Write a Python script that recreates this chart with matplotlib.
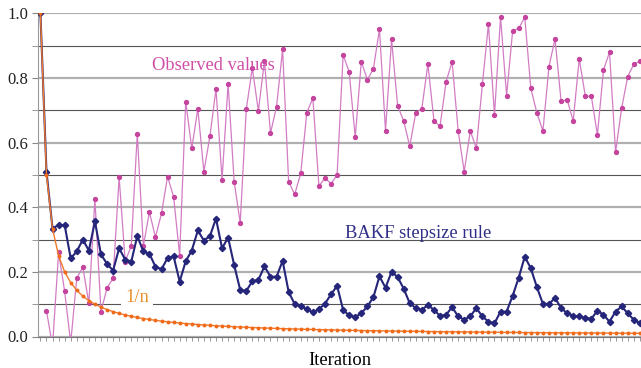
import numpy as np
import matplotlib
matplotlib.use("Agg")
import matplotlib.pyplot as plt
from matplotlib.ticker import MultipleLocator, FormatStrFormatter

plt.rcParams['font.family'] = ['Liberation Serif', 'DejaVu Serif']

# values, iteration 1..100
iterations = np.arange(1, 101)

observed = [np.nan, 0.08, -0.03, 0.26, 0.14, -0.02, 0.18, 0.215, 0.103, 0.425,
            0.077, 0.15, 0.18, 0.493, 0.232, 0.28, 0.627, 0.28, 0.385, 0.307,
            0.381, 0.495, 0.432, 0.25, 0.727, 0.582, 0.705, 0.51, 0.62, 0.766,
            0.485, 0.782, 0.479, 0.352, 0.703, 0.831, 0.698, 0.852, 0.629, 0.711,
            0.888, 0.479, 0.44, 0.505, 0.693, 0.737, 0.466, 0.49, 0.473, 0.499,
            0.871, 0.819, 0.616, 0.85, 0.795, 0.828, 0.951, 0.637, 0.919, 0.714,
            0.667, 0.589, 0.692, 0.705, 0.843, 0.668, 0.65, 0.788, 0.85, 0.636,
            0.51, 0.636, 0.583, 0.78, 0.966, 0.686, 0.988, 0.745, 0.946, 0.953,
            0.988, 0.768, 0.692, 0.636, 0.835, 0.921, 0.728, 0.733, 0.667, 0.859,
            0.744, 0.743, 0.624, 0.824, 0.88, 0.571, 0.706, 0.804, 0.842, 0.852]

bakf = [1.0, 0.51, 0.334, 0.345, 0.345, 0.242, 0.263, 0.30, 0.266, 0.356,
        0.254, 0.225, 0.204, 0.273, 0.238, 0.231, 0.311, 0.263, 0.256, 0.216,
        0.208, 0.243, 0.248, 0.17, 0.233, 0.266, 0.328, 0.297, 0.311, 0.365,
        0.273, 0.306, 0.221, 0.144, 0.141, 0.171, 0.175, 0.217, 0.185, 0.185,
        0.234, 0.138, 0.1, 0.093, 0.085, 0.075, 0.084, 0.102, 0.13, 0.157,
        0.082, 0.065, 0.06, 0.072, 0.093, 0.122, 0.186, 0.151, 0.2, 0.184,
        0.148, 0.103, 0.088, 0.082, 0.098, 0.082, 0.064, 0.067, 0.091, 0.062,
        0.052, 0.062, 0.088, 0.062, 0.046, 0.041, 0.077, 0.077, 0.126, 0.182,
        0.247, 0.211, 0.153, 0.101, 0.101, 0.119, 0.088, 0.072, 0.064, 0.062,
        0.057, 0.055, 0.08, 0.067, 0.046, 0.077, 0.093, 0.072, 0.052, 0.041]

one_over_n = 1.0 / iterations

fig = plt.figure(figsize=(6.41, 3.68), dpi=100)
ax = fig.add_axes([38 / 641, 31.5 / 368, 603 / 641, 323.2 / 368])

ax.set_xlim(0.6, 100.2)
ax.set_ylim(0, 1.0)

# grid: gray at the labelled ticks, darker thin lines between
ax.yaxis.set_major_locator(MultipleLocator(0.2))
ax.yaxis.set_minor_locator(MultipleLocator(0.1))
ax.yaxis.set_major_formatter(FormatStrFormatter('%.1f'))
ax.grid(which='major', axis='y', color='#b0b0b0', lw=1.6, zorder=0)
ax.grid(which='minor', axis='y', color='#555555', lw=0.8, zorder=0)
ax.set_axisbelow(True)

ax.plot(iterations, observed, color='#d27cc4', lw=0.9, marker='o', ms=2.8,
        mfc='#c4449e', mec='#c4449e', zorder=3)
ax.plot(iterations, bakf, color='#25257a', lw=1.5, marker='D', ms=3.2,
        mfc='#25257a', mec='#25257a', zorder=4)
ax.plot(iterations, one_over_n, color='#f07a2a', lw=1.0, marker='o', ms=1.8,
        mfc='#f06a1a', mec='#f06a1a', zorder=5)

ax.text(29.5, 0.837, 'Observed values', color='#d050a8', fontsize=13.3,
        ha='center', va='center', zorder=6)
ax.text(63.4, 0.32, 'BAKF stepsize rule', color='#303088', fontsize=13.3,
        ha='center', va='center', zorder=6)
ax.text(17, 0.12, '1/n', color='#e8902a', fontsize=13.3, ha='center', va='center',
        zorder=6, bbox=dict(facecolor='white', edgecolor='none', pad=3))

for side in ['top', 'right']:
    ax.spines[side].set_visible(False)
ax.spines['left'].set_color('#999999')
ax.spines['bottom'].set_color('#777777')

ax.set_xticks(iterations, minor=True)
ax.set_xticks([])
ax.tick_params(axis='x', which='minor', length=3, color='#888888', direction='out')
ax.tick_params(axis='y', which='both', length=4, color='#888888', labelsize=12,
               labelcolor='#222222', pad=3)
ax.set_xlabel('Iteration', fontsize=13.3, labelpad=5)

fig.savefig('out.png', dpi=100)
